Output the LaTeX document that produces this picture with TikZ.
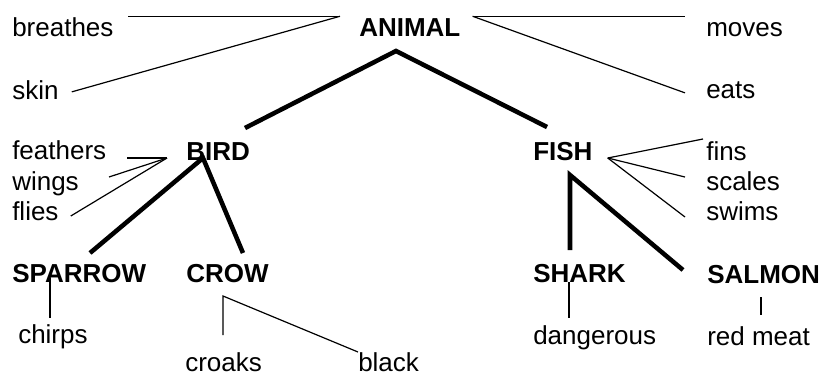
\documentclass[tikz,border=0pt]{standalone}
\usepackage{fontspec}
\setmainfont{Liberation Sans}
\begin{document}
\begin{tikzpicture}[x=0.75pt,y=-0.75pt,
                        wort/.style={font=\fontsize{19.5}{23}\selectfont, inner sep=0pt, anchor=base west,
                                     text height=14.6pt, text depth=3.9pt},
                        klasse/.style={wort, font=\fontsize{19.5}{23}\selectfont\bfseries},
                        duenn/.style={line width=0.9pt},
                        dick/.style={line width=3.4pt},
                        ]
                        \useasboundingbox (0,0) rectangle (822,376);
                        %Oberbegriff
                        \node[klasse] (animal) at (359,36) {ANIMAL};
                        \node[wort] (breathes) at (12,36) {breathes};
                        \node[wort] (skin) at (12,99) {skin};
                        \node[wort] (moves) at (706,36) {moves};
                        \node[wort] (eats) at (706,98) {eats};
                        %zweite Ebene
                        \node[klasse] (bird) at (186,160) {BIRD};
                        \node[wort] (feathers) at (12,159) {feathers};
                        \node[wort] (wings) at (12,190) {wings};
                        \node[wort] (flies) at (12,220) {flies};
                        \node[klasse] (fish) at (533,160) {FISH};
                        \node[wort] (fins) at (706,160) {fins};
                        \node[wort] (scales) at (706,190) {scales};
                        \node[wort] (swims) at (706,220) {swims};
                        %dritte Ebene
                        \node[klasse] (sparrow) at (12,282) {SPARROW};
                        \node[klasse] (crow) at (186,282) {CROW};
                        \node[klasse] (shark) at (533,282) {SHARK};
                        \node[klasse] (salmon) at (707,283) {SALMON};
                        \node[wort] (chirps) at (18,343) {chirps};
                        \node[wort] (croaks) at (185,371) {croaks};
                        \node[wort] (black) at (358,371) {black};
                        \node[wort] (dangerous) at (533,344) {dangerous};
                        \node[wort] (redmeat) at (707,345) {red meat};
                        %Knickpunkte
                        \coordinate (animal-l) at ([shift={(-19,0)}]animal.north west);
                        \coordinate (animal-r) at ([shift={(12,0)}]animal.north east);
                        \coordinate (animal-b) at ([shift={(37,15)}]animal.base west);
                        \coordinate (bird-l) at ([shift={(-19,-2)}]bird.base west);
                        \coordinate (bird-b) at ([shift={(17,-2)}]bird.base west);
                        \coordinate (fish-r) at ([shift={(15,-2)}]fish.base east);
                        \coordinate (fish-b) at ([shift={(37,15)}]fish.base west);
                        \coordinate (crow-b) at ([shift={(37,14)}]crow.base west);
                        %Eigenschaften ANIMAL
                        \draw[duenn] (animal-l) -- ([shift={(14,0)}]breathes.north east);
                        \draw[duenn] (animal-l) -- ([shift={(13,0)}]skin.east);
                        \draw[duenn] (animal-r) -- ([shift={(-21,0)}]moves.north west);
                        \draw[duenn] (animal-r) -- ([shift={(-21,2)}]eats.west);
                        \draw[dick] ([shift={(59,-32)}]bird.base west) -- (animal-b) -- ([shift={(14,-33)}]fish.base west);
                        %Eigenschaften BIRD
                        \draw[duenn] (bird-l) -- ([shift={(21,-1)}]feathers.base east);
                        \draw[duenn] (bird-l) -- ([shift={(30,-13)}]wings.base east);
                        \draw[duenn] (bird-l) -- ([shift={(12,-4)}]flies.base east);
                        \draw[dick] ([shift={(78,-29)}]sparrow.base west) -- (bird-b) -- ([shift={(57,-29)}]crow.base west);
                        %Eigenschaften FISH
                        \draw[duenn] (fish-r) -- ([shift={(-3,-21)}]fins.base west);
                        \draw[duenn] (fish-r) -- ([shift={(-21,-13)}]scales.base west);
                        \draw[duenn] (fish-r) -- ([shift={(-21,-3)}]swims.base west);
                        \draw[dick] ([shift={(37,-32)}]shark.base west) -- (fish-b) -- ([shift={(-24,-13)}]salmon.base west);
                        %unterste Ebene
                        \draw[duenn] ([shift={(38,-4)}]sparrow.base west) -- ([shift={(32,-25)}]chirps.base west);
                        \draw[duenn] ([shift={(38,-36)}]croaks.base west) -- (crow-b) -- ([shift={(0,-19)}]black.base west);
                        \draw[duenn] ([shift={(36,0)}]shark.base west) -- ([shift={(36,-26)}]dangerous.base west);
                        \draw[duenn] ([shift={(54,14)}]salmon.base west) -- ([shift={(54,-30)}]redmeat.base west);
                \end{tikzpicture}
\end{document}
